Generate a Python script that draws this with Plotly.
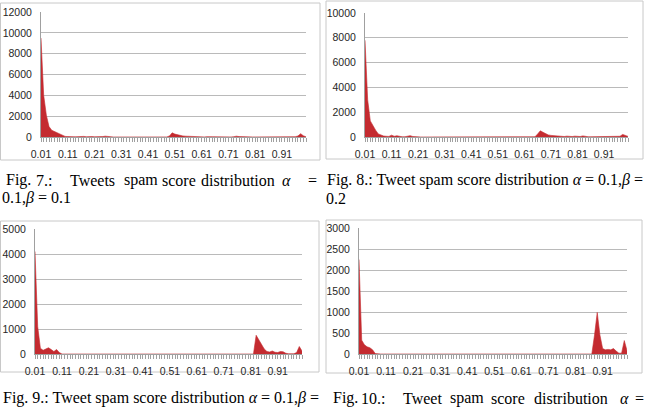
import plotly.graph_objects as go

W, H = 648, 416

# categories (spam score bins)
scores = [round(0.01 * i, 2) for i in range(1, 101)]
xtick_vals = [0.01, 0.11, 0.21, 0.31, 0.41, 0.51, 0.61, 0.71, 0.81, 0.91]
xtick_text = ["0.01", "0.11", "0.21", "0.31", "0.41", "0.51", "0.61", "0.71", "0.81", "0.91"]

fig7_counts = [
    9500, 4000, 2100, 1000, 650, 520, 450, 300, 150, 60,
    40, 60, 30, 20, 40, 100, 60, 20, 60, 40,
    20, 10, 20, 40, 80, 40, 10, 5, 5, 5,
    5, 5, 5, 5, 5, 5, 5, 5, 5, 5,
    5, 5, 5, 5, 5, 5, 5, 10, 100, 400,
    280, 200, 140, 100, 80, 60, 50, 40, 30, 20,
    10, 10, 30, 60, 30, 20, 10, 10, 10, 10,
    10, 10, 30, 80, 40, 20, 10, 10, 10, 10,
    10, 10, 10, 10, 10, 10, 10, 20, 10, 30,
    20, 10, 10, 10, 10, 30, 100, 320, 120, 20,
]
fig8_counts = [
    7800, 3000, 1300, 900, 550, 250, 150, 80, 60, 50,
    150, 60, 100, 40, 20, 20, 50, 110, 40, 10,
    5, 5, 5, 5, 5, 5, 5, 5, 5, 5,
    5, 5, 5, 5, 5, 5, 5, 5, 5, 5,
    5, 5, 5, 5, 5, 5, 5, 5, 5, 5,
    5, 5, 5, 5, 5, 5, 5, 5, 5, 5,
    5, 5, 5, 5, 20, 250, 500, 380, 250, 170,
    130, 100, 70, 40, 30, 40, 70, 30, 40, 70,
    30, 40, 90, 40, 20, 20, 20, 20, 20, 20,
    20, 20, 20, 20, 20, 30, 60, 210, 150, 50,
]
fig9_counts = [
    4100, 1100, 230, 150, 200, 250, 180, 100, 180, 60,
    0, 0, 0, 0, 0, 0, 0, 0, 0, 0,
    0, 0, 0, 0, 0, 0, 0, 0, 0, 0,
    0, 0, 0, 0, 0, 0, 0, 0, 0, 0,
    0, 0, 0, 0, 0, 0, 0, 0, 0, 0,
    0, 0, 0, 0, 0, 0, 0, 0, 0, 0,
    0, 0, 0, 0, 0, 0, 0, 0, 0, 0,
    0, 0, 0, 0, 0, 0, 0, 0, 0, 0,
    0, 0, 750, 580, 380, 200, 100, 80, 120, 70,
    60, 100, 90, 30, 10, 5, 10, 60, 300, 120,
]
fig10_counts = [
    2250, 330, 220, 170, 150, 100, 10, 0, 0, 0,
    0, 0, 0, 0, 0, 0, 0, 0, 0, 0,
    0, 0, 0, 0, 0, 0, 0, 0, 0, 0,
    0, 0, 0, 0, 0, 0, 0, 0, 0, 0,
    0, 0, 0, 0, 0, 0, 0, 0, 0, 0,
    0, 0, 0, 0, 0, 0, 0, 0, 0, 0,
    0, 0, 0, 0, 0, 0, 0, 0, 0, 0,
    0, 0, 0, 0, 0, 0, 0, 0, 0, 0,
    0, 0, 0, 0, 0, 0, 0, 450, 990, 450,
    130, 100, 110, 100, 130, 70, 20, 20, 320, 80,
]

y_ticks7 = [0, 2000, 4000, 6000, 8000, 10000, 12000]
y_ticks8 = [0, 2000, 4000, 6000, 8000, 10000]
y_ticks9 = [0, 1000, 2000, 3000, 4000, 5000]
y_ticks10 = [0, 500, 1000, 1500, 2000, 2500, 3000]

RED = "#c42b30"
GRID = "#bababa"
TXT = "#262626"
TICKFONT = "Liberation Sans, Arial, sans-serif"


def px(x):
    return x / W


def py(y):
    return 1 - y / H


panels = [
    # (values, yticks, x0, x1, ytop, ybottom)
    (fig7_counts, y_ticks7, 41, 306, 12, 137),
    (fig8_counts, y_ticks8, 365, 628, 13, 137),
    (fig9_counts, y_ticks9, 35, 302, 229, 354),
    (fig10_counts, y_ticks10, 359, 627, 228, 354),
]

fig = go.Figure()
layout = dict(
    width=W, height=H,
    margin=dict(l=0, r=0, t=0, b=0, autoexpand=False),
    paper_bgcolor="white", plot_bgcolor="white",
    showlegend=False,
    font=dict(family=TICKFONT, size=10.5, color=TXT),
)

for i, (vals, yt, x0, x1, yt_px, yb_px) in enumerate(panels, start=1):
    sfx = "" if i == 1 else str(i)
    fig.add_trace(go.Scatter(
        x=scores, y=vals, mode="lines", fill="tozeroy",
        line=dict(color=RED, width=0.6), fillcolor=RED,
        xaxis="x" + sfx, yaxis="y" + sfx, hoverinfo="skip",
    ))
    layout["xaxis" + sfx] = dict(
        domain=[px(x0), px(x1)], anchor="y" + sfx, automargin=False,
        range=[0.01, 1.0], tickmode="array",
        tickvals=xtick_vals, ticktext=xtick_text,
        ticks="outside", ticklen=4, tickcolor="#a0a0a0", tickwidth=1,
        minor=dict(dtick=0.01, tick0=0.01, ticks="outside", ticklen=4,
                   tickcolor="#a0a0a0", tickwidth=1, showgrid=False),
        showline=True, linecolor="#a0a0a0", linewidth=1,
        showgrid=False, zeroline=False,
        tickfont=dict(family=TICKFONT, size=10.5, color=TXT),
        ticklabelstandoff=3,
    )
    layout["yaxis" + sfx] = dict(
        domain=[py(yb_px), py(yt_px)], anchor="x" + sfx, automargin=False,
        range=[0, yt[-1]], tickmode="array", tickvals=yt,
        ticktext=[str(v) for v in yt],
        showgrid=True, gridcolor=GRID, gridwidth=1,
        showline=True, linecolor="#a0a0a0", linewidth=1,
        zeroline=False, ticks="",
        tickfont=dict(family=TICKFONT, size=10.5, color=TXT),
        ticklabelstandoff=6,
    )

# panel frames
frames = [(0.5, 3, 320, 160), (326, 1, 643, 159), (0.5, 221, 319, 372), (326, 220, 642, 373)]
shapes = []
for (a, b, c, d) in frames:
    shapes.append(dict(type="rect", xref="paper", yref="paper",
                       x0=px(a), x1=px(c), y0=py(d), y1=py(b),
                       line=dict(color="#c8c8c8", width=1), fillcolor="rgba(0,0,0,0)",
                       layer="below"))
layout["shapes"] = shapes

SERIF = "Liberation Serif, Times New Roman, serif"
annotations = []


def cap(text, x, y, size=16):
    annotations.append(dict(text=text, x=px(x), y=py(y), xref="paper", yref="paper",
                            xanchor="left", yanchor="middle", showarrow=False,
                            font=dict(family=SERIF, size=size, color="black")))


# Fig. 7 caption (justified line)
for word, x in [("Fig.", 4), ("7.:", 34), ("Tweets", 68), ("spam", 122), ("score", 160),
                ("distribution", 199), ("<i>α</i>", 280), ("=", 306)]:
    cap(word, x, 180)
cap("0.1,<i>β</i> = 0.1", 0, 198)

# Fig. 8 caption
cap("Fig. 8.: Tweet spam score distribution <i>α</i> = 0.1,<i>β</i> =", 325, 180)
cap("0.2", 324, 198)

# Fig. 9 caption
cap("Fig. 9.: Tweet spam score distribution <i>α</i> = 0.1,<i>β</i> =", 1, 398)

# Fig. 10 caption (justified line)
for word, x in [("Fig.", 331), ("10.:", 359), ("Tweet", 401), ("spam", 448), ("score", 489),
                ("distribution", 532), ("<i>α</i>", 618), ("=", 633)]:
    cap(word, x, 398)

layout["annotations"] = annotations
fig.update_layout(**layout)
fig.write_html("out.html")
